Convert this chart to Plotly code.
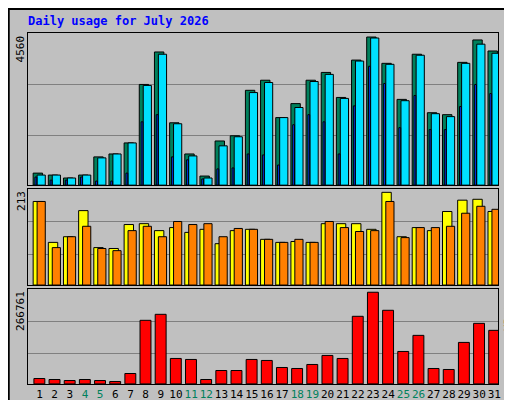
import plotly.graph_objects as go

days = list(range(1, 32))
hits = [370, 310, 220, 310, 870, 960, 1300, 3100, 4100, 1920, 960, 280, 1360, 1520, 2920, 3230,
        2080, 2510, 3230, 3470, 2700, 3850, 4560, 3750, 2640, 4030, 2230, 2170, 3780, 4470, 4130]
files = [310, 310, 220, 310, 840, 960, 1300, 3070, 4030, 1890, 900, 220, 1210, 1490, 2850, 3160,
         2080, 2390, 3190, 3410, 2670, 3820, 4530, 3720, 2600, 4000, 2200, 2110, 3750, 4340, 4060]
pages = [250, 155, 155, 250, 125, 125, 370, 1950, 2170, 870, 780, 190, 500, 530, 960, 930,
         620, 1860, 2170, 1950, 960, 2440, 3660, 3130, 1770, 2760, 1710, 1710, 2420, 3100, 2820]
sites = [192, 98, 111, 171, 86, 84, 139, 141, 125, 132, 121, 128, 95, 125, 128, 105,
         98, 100, 98, 141, 141, 141, 128, 213, 111, 132, 125, 169, 195, 197, 169]
visits = [192, 86, 111, 135, 84, 79, 125, 135, 111, 146, 139, 141, 111, 130, 128, 105,
          98, 105, 98, 146, 132, 123, 125, 192, 109, 132, 132, 135, 165, 181, 174]
kbytes = [15600, 12700, 9700, 12700, 9700, 6800, 30200, 185000, 202500, 74000, 71100, 12700,
          38900, 38900, 71100, 68200, 47700, 44800, 56500, 82800, 74000, 196700, 266761,
          214200, 94400, 141200, 44800, 41900, 120700, 176200, 155800]
weekend = [4, 5, 11, 12, 18, 19, 25, 26]

MONO = "DejaVu Sans Mono"
line = dict(color="black", width=1)

fig = go.Figure()


def bar(y, color, offset, width, axis):
    fig.add_trace(go.Bar(x=days, y=y, marker=dict(color=color, line=line),
                         offset=offset, width=width, xaxis="x" + axis, yaxis="y" + axis))


bar(hits, "#00805c", -0.42, 0.62, "")
bar(files, "#00e0ff", -0.16, 0.54, "")
bar(pages, "#0040ff", -0.3, 0.12, "")
bar(sites, "#ffff00", -0.42, 0.62, "2")
bar(visits, "#ff8000", -0.16, 0.54, "2")
bar(kbytes, "#ff0000", -0.37, 0.72, "3")

ticktext = ["<span style='color:#00805c'>%d</span>" % d if d in weekend else str(d) for d in days]
xcommon = dict(range=[0.24, 31.24], showline=True, linecolor="black", mirror=True,
               showgrid=False, zeroline=False, fixedrange=True, automargin=False)
ycommon = dict(showline=True, linecolor="black", mirror=True, gridcolor="#808080",
               showticklabels=False, zeroline=False, ticks="", automargin=False)

fig.update_layout(
    width=512, height=400, showlegend=False, barmode="overlay",
    paper_bgcolor="#c0c0c0", plot_bgcolor="#c0c0c0",
    margin=dict(l=20, r=22, t=25, b=22, autoexpand=False),
    font=dict(family=MONO, size=11, color="black"),
    xaxis=dict(xcommon, anchor="y", showticklabels=False),
    xaxis2=dict(xcommon, anchor="y2", matches="x", showticklabels=False),
    xaxis3=dict(xcommon, anchor="y3", matches="x", tickvals=days, ticktext=ticktext,
                tickangle=0, ticklen=0, tickfont=dict(family=MONO, size=11)),
    yaxis=dict(ycommon, domain=[0.569, 1.0], range=[0, 4684], tickvals=[1520, 3100]),
    yaxis2=dict(ycommon, domain=[0.286, 0.558], range=[0, 220.6], tickvals=[70, 146]),
    yaxis3=dict(ycommon, domain=[0.006, 0.275], range=[0, 276400], tickvals=[87300, 182400]),
    shapes=[dict(type="rect", xref="paper", yref="paper", x0=-0.041, x1=1.043, y0=-0.061, y1=1.068,
                 line=dict(color="black", width=2))],
)

fig.add_annotation(text="<b>Daily usage for July 2026</b>", xref="paper", yref="paper",
                   x=-0.005, y=1.035, xanchor="left", yanchor="middle", showarrow=False,
                   font=dict(family=MONO, size=12, color="#0000ff"))

for ytop, label in [(1.0, "4560"), (0.558, "213"), (0.275, "266761")]:
    fig.add_annotation(text=label, xref="paper", yref="paper", x=-0.015, y=ytop, xanchor="center",
                       yanchor="top", textangle=-90, showarrow=False, font=dict(family=MONO, size=11))

right = [
    (1.0, "<span style='color:#00e0ff'>Pages</span> / <span style='color:#0040ff'>Files</span>"
          " / <span style='color:#00805c'>Hits</span>"),
    (0.558, "<span style='color:#ff8000'>Sites</span> / <span style='color:#ffff00'>Visits</span>"),
    (0.275, "<span style='color:#ff0000'>KBytes</span>"),
]
for ytop, label in right:
    fig.add_annotation(text=label, xref="paper", yref="paper", x=1.024, y=ytop, xanchor="center",
                       yanchor="top", textangle=-90, showarrow=False,
                       font=dict(family=MONO, size=11, color="black"))

fig.write_html("out.html")
